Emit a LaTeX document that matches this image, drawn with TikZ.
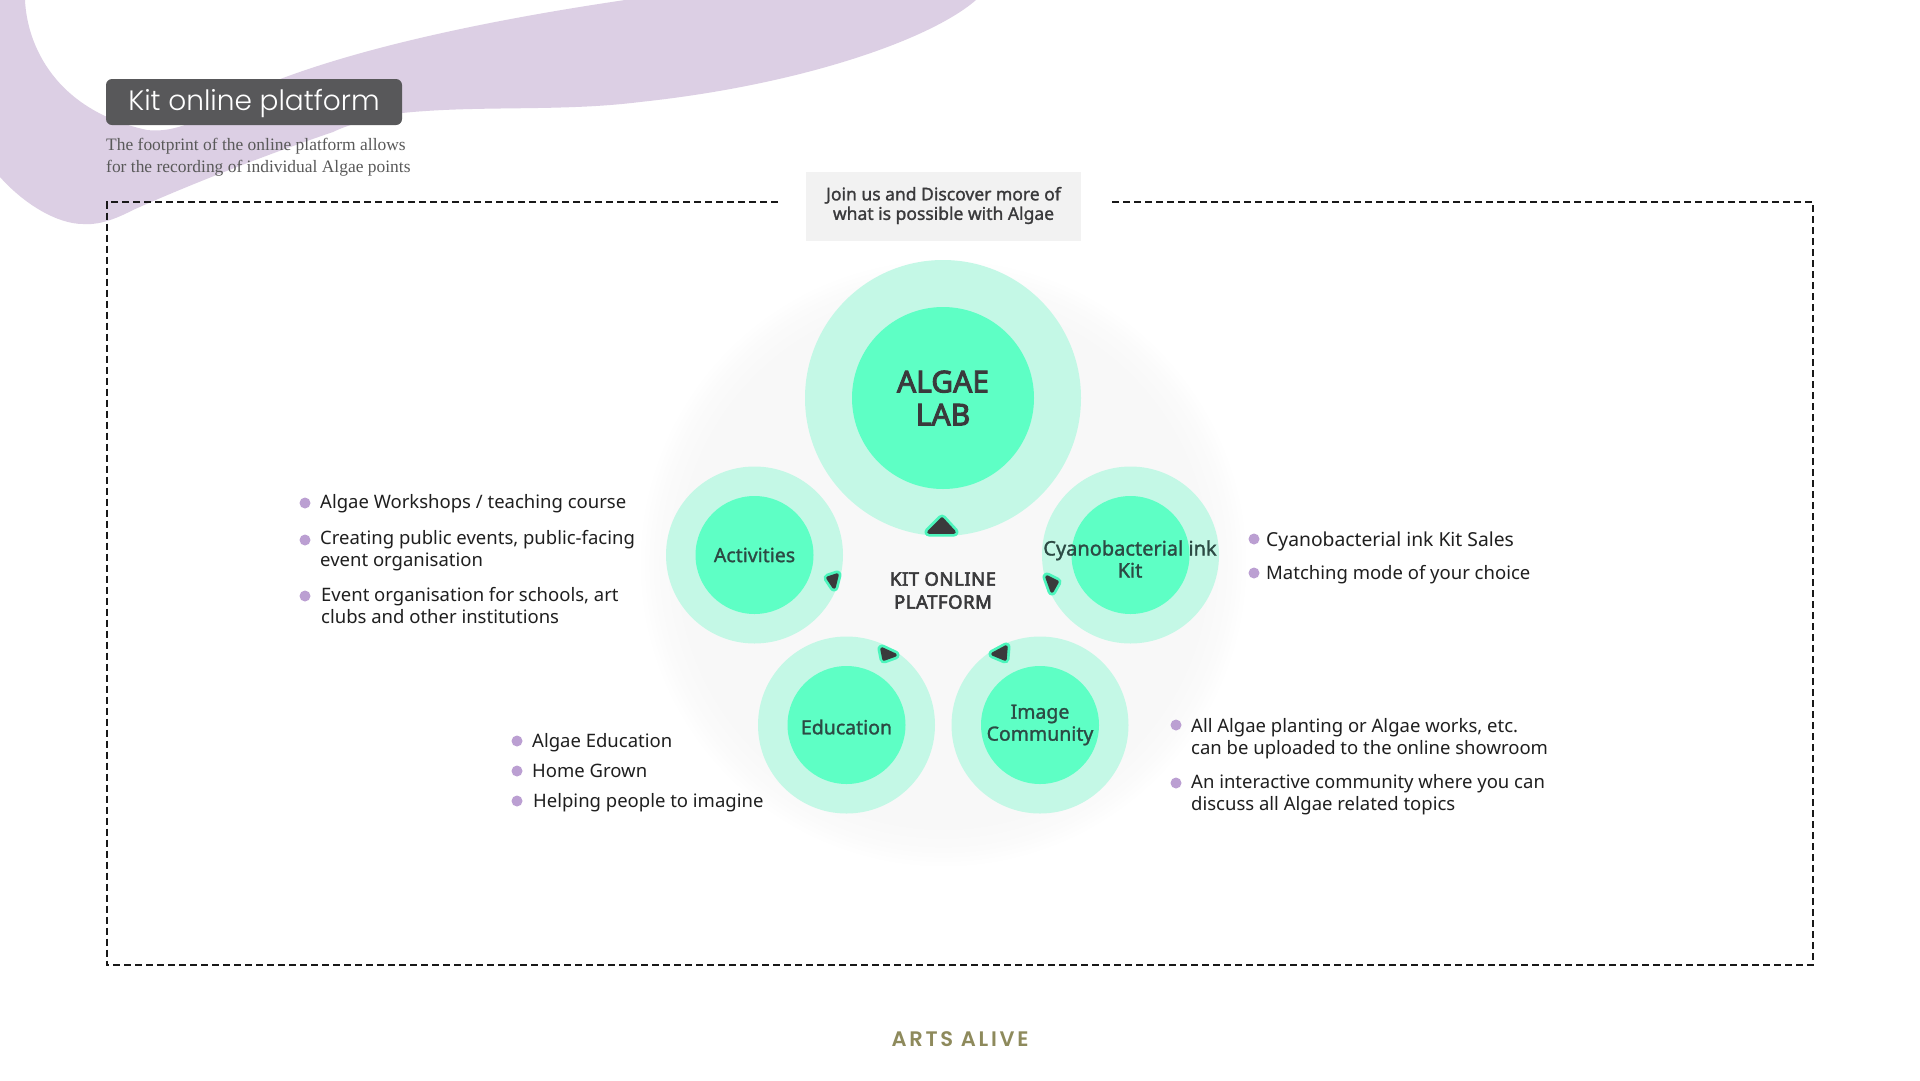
\documentclass[tikz,border=0pt]{standalone}
\usepackage{fontspec}
\setmainfont{Noto Sans}
\newfontfamily\medfont[RawFeature={embolden=1.4}]{Noto Sans}
\newfontfamily\boldfont[RawFeature={embolden=3.2}]{Noto Sans}
\newfontfamily\centerfont[RawFeature={embolden=3.2},LetterSpace=3]{Noto Sans}
\newfontfamily\titlefont{Poppins Light}
\newfontfamily\serifsub{Liberation Serif}
\newfontfamily\footfont[LetterSpace=13]{Poppins SemiBold}
\definecolor{swoosh}{HTML}{DCCFE4}
\definecolor{ringc}{HTML}{C4F8E6}
\definecolor{corec}{HTML}{5EFFC5}
\definecolor{edgec}{HTML}{4CF5BC}
\definecolor{darkc}{HTML}{3A3A3C}
\definecolor{titlec}{HTML}{58585A}
\definecolor{bulletc}{HTML}{BB9FD2}
\definecolor{footc}{HTML}{8E8A5C}
\definecolor{boxc}{HTML}{F2F2F2}
\definecolor{haloc}{HTML}{F8F8F8}
\definecolor{labelc}{HTML}{2C4A44}
\pgfdeclareradialshading{halo}{\pgfpoint{0bp}{0bp}}{%
 color(0bp)=(haloc); color(21.5bp)=(haloc); color(23.5bp)=(haloc!60!white); color(25bp)=(white); color(50bp)=(white)}
\tikzset{
 x=1pt,y=-1pt,
 ring/.style={circle,fill=ringc,draw=none,inner sep=0pt,minimum size=#1},
 core/.style={circle,fill=corec,draw=none,inner sep=0pt,minimum size=#1,align=center,text=labelc,font=\medfont\fontsize{19.5}{22}\selectfont},
 tri/.style={fill=darkc,draw=darkc,line width=3.5pt,line join=round,preaction={draw=edgec,line width=9pt,line join=round}},
 dot/.style={circle,fill=bulletc,draw=none,inner sep=0pt,minimum size=11pt},
 item/.style={anchor=west,inner sep=0pt,align=left,text=black!88,font=\fontsize{18.5}{22}\selectfont},
 frame/.style={line width=2pt,dash pattern=on 7pt off 4pt,draw=black!90}
}
\begin{document}
\begin{tikzpicture}
\useasboundingbox (0,0) rectangle (1920,1080);
\fill[white] (0,0) rectangle (1920,1080);
% swoosh
\fill[swoosh] (0,0) -- (25,0) .. controls (27,45) and (55,110) .. (147,130)
 .. controls (190,135) and (225,100) .. (283,78)
 .. controls (380,42) and (510,17) .. (625,0) -- (976,0)
 .. controls (930,40) and (800,85) .. (640,102)
 .. controls (560,112) and (480,105) .. (402,113)
 .. controls (370,118) and (345,126) .. (333,132)
 .. controls (280,150) and (200,180) .. (133,210)
 .. controls (110,222) and (95,225) .. (83,224)
 .. controls (58,224) and (25,205) .. (0,177) -- cycle;
% halo
\shade[shading=halo] (943,563) circle (305);
% frame
\draw[frame] (778,202) -- (106.5,202) -- (106.5,965) -- (1813,965) -- (1813,202) -- (1110,202);
% title
\node[fill=titlec,rounded corners=6pt,minimum width=296pt,minimum height=46pt,inner sep=0pt] (title) at (254,102) {};
\node[inner sep=0pt,text=white,font=\titlefont\fontsize{28}{32}\selectfont] (titletext) at (254,103.5) {Kit online platform};
\node[anchor=north west,inner sep=0pt,align=left,text=black!65,font=\serifsub\fontsize{17.45}{22}\selectfont] (sub) at (106,138) {The footprint of the online platform allows\\for the recording of individual Algae points};
% join box
\node[fill=boxc,minimum width=275pt,minimum height=69pt,inner sep=0pt] (join) at (943.5,206.5) {};
\node[inner sep=0pt,align=center,text=darkc,font=\medfont\fontsize{17.5}{19.5}\selectfont] (jointext) at (943.5,205.5) {Join us and Discover more of\\what is possible with Algae};
% circles
\node[ring=276pt] (labring) at (943,398) {};
\node[core=182pt,font=\boldfont\fontsize{30}{33}\selectfont,text=darkc] (lab) at (943,398) {ALGAE\\LAB};
\node[ring=177pt] (actring) at (754.5,555) {};
\node[core=118pt] (act) at (754.5,555) {Activities};
\node[ring=177pt] (cyaring) at (1130.5,555) {};
\node[core=118pt] (cya) at (1130.5,555) {};
\node[align=center,text=labelc,font=\medfont\fontsize{20}{22}\selectfont,inner sep=0pt] (cyatext) at (1130,559) {Cyanobacterial ink\\Kit};
\node[ring=177pt] (eduring) at (846.5,725) {};
\node[core=118pt] (edu) at (846.5,725) {};
\node[text=labelc,font=\medfont\fontsize{19.5}{22}\selectfont,inner sep=0pt] (edutext) at (846.5,727) {Education};
\node[ring=177pt] (imgring) at (1040,725) {};
\node[core=118pt] (img) at (1040,725) {Image\\Community};
\node[align=center,inner sep=0pt,text=darkc,font=\centerfont\fontsize{18.5}{23}\selectfont] (center) at (943,590.5) {KIT ONLINE\\PLATFORM};
% triangles
\draw[tri] (942,519) -- (954,532) -- (929,532) -- cycle;
\draw[tri] (837,575) -- (828,578) -- (834,587) -- cycle;
\draw[tri] (1047,577) -- (1057,582) -- (1052,591) -- cycle;
\draw[tri] (1006,647) -- (993,654) -- (1005,659) -- cycle;
\draw[tri] (882,649) -- (895,655) -- (884,659) -- cycle;
% lists
\node[dot] (a1) at (305,503) {}; \node[item] (ta1) at (320,504) {Algae Workshops / teaching course};
\node[dot] (a2) at (305,540) {}; \node[item,anchor=north west] (ta2) at (320,530.5) {Creating public events, public-facing\\event organisation};
\node[dot] (a3) at (305,596) {}; \node[item,anchor=north west] (ta3) at (321,587) {Event organisation for schools, art\\clubs and other institutions};
\node[dot] (e1) at (517,741) {}; \node[item] (te1) at (532,743) {Algae Education};
\node[dot] (e2) at (517,771) {}; \node[item] (te2) at (532,771) {Home Grown};
\node[dot] (e3) at (517,801) {}; \node[item] (te3) at (533,803) {Helping people to imagine};
\node[dot] (c1) at (1254,539) {}; \node[item,font=\fontsize{19.3}{22}\selectfont] (tc1) at (1266,541) {Cyanobacterial ink Kit Sales};
\node[dot] (c2) at (1254,573) {}; \node[item] (tc2) at (1266,575) {Matching mode of your choice};
\node[dot] (i1) at (1176,725) {}; \node[item,anchor=north west] (ti1) at (1191,718) {All Algae planting or Algae works, etc.\\can be uploaded to the online showroom};
\node[dot] (i2) at (1176,783) {}; \node[item,anchor=north west] (ti2) at (1191,774) {An interactive community where you can\\discuss all Algae related topics};
\node[text=footc,inner sep=0pt,font=\footfont\fontsize{21}{24}\selectfont] (foot) at (960,1039.5) {ARTS ALIVE};
\end{tikzpicture}
\end{document}
